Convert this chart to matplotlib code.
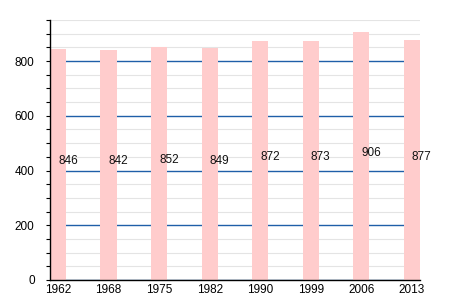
import numpy as np
from matplotlib import pyplot as plt
from matplotlib.ticker import MultipleLocator

# 연도별 값
years = ['1962', '1968', '1975', '1982', '1990', '1999', '2006', '2013']
values = [846, 842, 852, 849, 872, 873, 906, 877]

plt.rcParams['font.family'] = ['Liberation Sans', 'DejaVu Sans']

fig = plt.figure(figsize=(4.5, 3), dpi=100)
ax = fig.add_axes([0.111, 0.067, 0.822, 0.866])

x = np.arange(len(years))
w = 0.32
ax.bar(x, values, width=w, color='#ffcccc', zorder=3)

# 막대 값 라벨
for i, v in enumerate(values):
    ax.text(x[i], v / 2 + 12, str(v), ha='left', va='center', fontsize=8.5, color='#111111', zorder=4)

ax.set_xlim(-w / 2, len(years) - 1 + w / 2)
ax.set_ylim(0, 950)
ax.set_xticks(x)
ax.set_xticklabels(years)
ax.yaxis.set_major_locator(MultipleLocator(200))
ax.yaxis.set_minor_locator(MultipleLocator(50))

ax.grid(axis='y', which='minor', color='#e4e4e4', linewidth=0.8, zorder=0)
ax.grid(axis='y', which='major', color='#1f5fa8', linewidth=1.0, zorder=1)

for s in ['top', 'right']:
    ax.spines[s].set_visible(False)
for s in ['left', 'bottom']:
    ax.spines[s].set_linewidth(1.0)
    ax.spines[s].set_zorder(5)

ax.tick_params(axis='y', which='both', length=3, width=0.8, labelsize=8.5, pad=8)
ax.tick_params(axis='x', length=0, labelsize=8.5, pad=3)

fig.savefig('out.png', dpi=100)
